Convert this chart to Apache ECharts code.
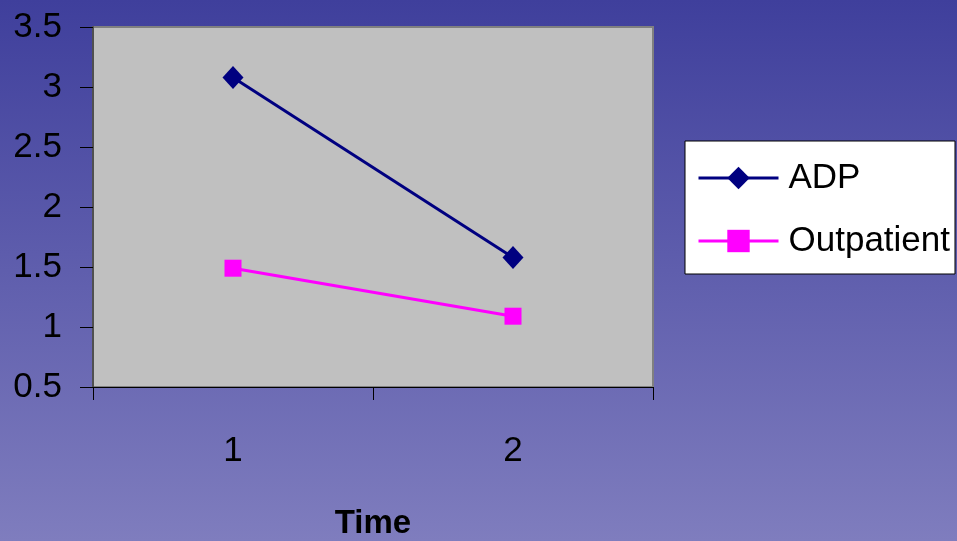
<!DOCTYPE html>
<html>
<head>
<meta charset="utf-8">
<script src="https://cdn.jsdelivr.net/npm/echarts@6/dist/echarts.min.js"></script>
<style>
  html, body { margin: 0; padding: 0; }
  #chart { width: 957px; height: 541px; }
</style>
</head>
<body>
<div id="chart"></div>
<script>
// Time points on the category axis
const timePoints = ['1', '2'];
// Mean scores per group
const adpValues = [3.08, 1.58];
const outpatientValues = [1.49, 1.09];
// Value axis range
const yMin = 0.5;
const yMax = 3.5;
const yStep = 0.5;

const FONT = '"Liberation Sans", Arial, sans-serif';

const chart = echarts.init(document.getElementById('chart'), null, { renderer: 'canvas' });

chart.setOption({
  animation: false,
  backgroundColor: new echarts.graphic.LinearGradient(0, 0, 0, 1, [
    { offset: 0, color: '#3F3F9C' },
    { offset: 1, color: '#7F7DBE' }
  ]),
  grid: {
    left: 93, top: 27, right: 304, bottom: 154,
    containLabel: false,
    outerBoundsMode: 'none',
    show: true,
    backgroundColor: '#C0C0C0',
    borderColor: '#808080',
    borderWidth: 2
  },
  legend: {
    orient: 'vertical',
    left: 685,
    top: 141,
    backgroundColor: '#FFFFFF',
    borderColor: '#000000',
    borderWidth: 1,
    borderRadius: 0,
    padding: [18, 5, 14, 12],
    itemWidth: 80,
    itemHeight: 28,
    itemGap: 25,
    lineStyle: { width: 3 },
    textStyle: {
      fontFamily: FONT,
      fontSize: 35,
      color: '#000',
      lineHeight: 38,
      padding: [0, 0, 0, 5]
    },
    data: ['ADP', 'Outpatient']
  },
  xAxis: {
    type: 'category',
    data: timePoints,
    boundaryGap: true,
    name: 'Time',
    nameLocation: 'middle',
    nameGap: 120,
    nameTextStyle: {
      fontFamily: FONT,
      fontSize: 33,
      fontWeight: 'bold',
      color: '#000',
      verticalAlign: 'top'
    },
    axisLine: { show: true, lineStyle: { color: '#000', width: 1 } },
    axisTick: { show: true, inside: false, length: 13, alignWithLabel: false, lineStyle: { color: '#000' } },
    axisLabel: {
      margin: 47,
      fontFamily: FONT,
      fontSize: 35,
      color: '#000'
    },
    splitLine: { show: false }
  },
  yAxis: {
    type: 'value',
    min: yMin,
    max: yMax,
    interval: yStep,
    axisLine: { show: true, lineStyle: { color: '#505050', width: 2 } },
    axisTick: { show: true, length: 13, lineStyle: { color: '#000' } },
    axisLabel: {
      margin: 31,
      fontFamily: FONT,
      fontSize: 35,
      color: '#000'
    },
    splitLine: { show: false }
  },
  series: [
    {
      name: 'ADP',
      type: 'line',
      data: adpValues,
      symbol: 'diamond',
      symbolSize: [21, 23],
      color: '#000080',
      lineStyle: { color: '#000080', width: 3 },
      itemStyle: { color: '#000080' }
    },
    {
      name: 'Outpatient',
      type: 'line',
      data: outpatientValues,
      symbol: 'rect',
      symbolSize: 17,
      color: '#FF00FF',
      lineStyle: { color: '#FF00FF', width: 3 },
      itemStyle: { color: '#FF00FF' }
    }
  ]
});
</script>
</body>
</html>
